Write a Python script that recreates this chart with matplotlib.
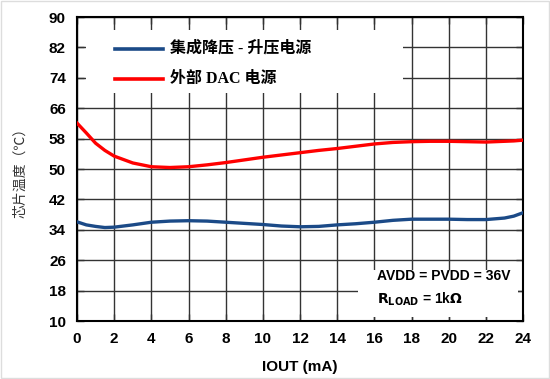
import matplotlib.pyplot as plt
from matplotlib.patches import Rectangle

plt.rcParams['font.family'] = ['Liberation Sans', 'Noto Sans CJK SC', 'DejaVu Sans']

# values
iout = [0, 0.5, 1, 1.5, 2, 3, 4, 5, 6, 7, 8, 9, 10, 11, 12, 13, 14, 15, 16, 17, 18, 19, 20, 21, 22, 23, 23.5, 24]
temp_buckboost = [36.1, 35.3, 34.9, 34.6, 34.7, 35.3, 36.0, 36.3, 36.4, 36.3, 36.0, 35.7, 35.4, 35.0, 34.8, 34.9, 35.3, 35.6, 36.0, 36.5, 36.8, 36.8, 36.8, 36.7, 36.7, 37.1, 37.6, 38.5]
temp_external = [62.1, 59.5, 56.8, 54.9, 53.4, 51.6, 50.6, 50.4, 50.6, 51.1, 51.7, 52.4, 53.1, 53.7, 54.3, 54.9, 55.4, 56.0, 56.6, 57.0, 57.2, 57.3, 57.3, 57.2, 57.1, 57.3, 57.4, 57.6]

label_buckboost = '集成降压 - 升压电源'
label_external = '外部 DAC 电源'
xticks = list(range(0, 25, 2))
yticks = list(range(10, 91, 8))

fig = plt.figure(figsize=(5.5, 3.79), dpi=100)
ax = fig.add_axes([0.14, 0.153, 0.811, 0.802])

ax.set_axisbelow(True)
ax.grid(True, color='#333333', linewidth=1.0)

ax.plot(iout, temp_buckboost, color='#1B4A87', linewidth=2.4, zorder=3)
ax.plot(iout, temp_external, color='#FF0000', linewidth=2.4, zorder=3)

# white boxes that hide the grid behind legend and note
ax.add_patch(Rectangle((0.02, 0.75), 0.711, 0.207, transform=ax.transAxes,
                       facecolor='white', edgecolor='none', zorder=1))
ax.add_patch(Rectangle((0.63, 0.013), 0.359, 0.155, transform=ax.transAxes,
                       facecolor='white', edgecolor='none', zorder=1))

# legend drawn by hand
legend_font = ['Liberation Serif', 'Noto Sans CJK SC']
ax.plot([0.085, 0.193], [0.895, 0.895], transform=ax.transAxes, color='#1B4A87', linewidth=2.6, zorder=4)
ax.plot([0.085, 0.193], [0.795, 0.795], transform=ax.transAxes, color='#FF0000', linewidth=2.6, zorder=4)
ax.text(0.208, 0.895, label_buckboost, transform=ax.transAxes, fontsize=11.5, fontweight='bold',
        va='center', ha='left', family=legend_font, zorder=4)
ax.text(0.208, 0.795, label_external, transform=ax.transAxes, fontsize=11.5, fontweight='bold',
        va='center', ha='left', family=legend_font, zorder=4)

ax.text(0.672, 0.148, 'AVDD = PVDD = 36V', transform=ax.transAxes, fontsize=10,
        fontweight='bold', va='center', ha='left', zorder=4)
ax.text(0.672, 0.07, r'$\mathbf{R}_{\mathbf{LOAD}}$ = 1k$\mathbf{\Omega}$', transform=ax.transAxes,
        fontsize=10, fontweight='bold', va='center', ha='left', zorder=4)

ax.set_xlim(0, 24)
ax.set_ylim(10, 90)
ax.set_xticks(xticks)
ax.set_yticks(yticks)
ax.tick_params(direction='in', length=5, width=1, top=True, right=True, colors='#333333',
               labelcolor='black', labelsize=11, pad=8)
for lab in ax.get_xticklabels() + ax.get_yticklabels():
    lab.set_fontweight('bold')
for s in ax.spines.values():
    s.set_linewidth(1.5)
    s.set_color('black')

ax.set_xlabel('IOUT (mA)', fontsize=11, fontweight='bold', labelpad=10)
ax.set_ylabel('芯片温度（℃）', fontsize=10, family=['Noto Sans CJK SC', 'DejaVu Sans'],
              color='#333333', labelpad=16)

fig.patches.append(Rectangle((0.002, 0.003), 0.996, 0.994, transform=fig.transFigure,
                             fill=False, edgecolor='#DDDDDD', linewidth=1))

fig.savefig('out.png', dpi=100)
